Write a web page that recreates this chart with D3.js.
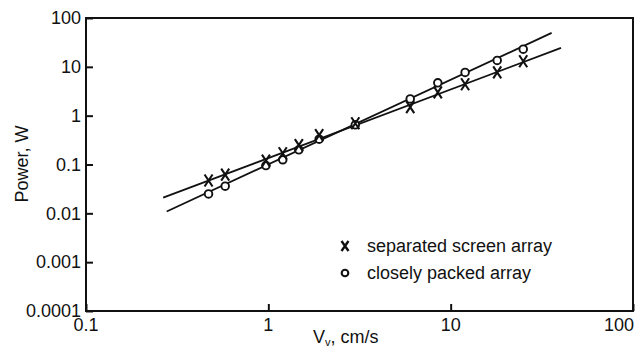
<!DOCTYPE html>
<html><head><meta charset="utf-8">
<script src="https://cdn.jsdelivr.net/npm/d3@7"></script>
<style>body{margin:0;background:#fff}svg{display:block}text{font-family:"Liberation Sans",Arial,Helvetica,sans-serif;fill:#111}</style>
</head><body><svg id="c" width="640" height="350"></svg>
<script>
// Data
const velocity = [0.47, 0.58, 0.97, 1.2, 1.47, 1.9, 3.0, 6.0, 8.5, 12, 18, 25];
const separatedPower = [0.047, 0.062, 0.12, 0.17, 0.25, 0.4, 0.7, 1.5, 3.0, 4.4, 7.7, 13];
const packedPower = [0.025, 0.036, 0.095, 0.125, 0.2, 0.33, 0.65, 2.2, 4.7, 7.7, 13.5, 23];
const fitSepX = [0.265, 40.3], fitSepY = [0.021, 24.4];
const fitPackX = [0.277, 35.8], fitPackY = [0.0109, 49.5];
const xTicks = [0.1, 1, 10, 100], xTickLabels = ["0.1", "1", "10", "100"];
const yTicks = [0.0001, 0.001, 0.01, 0.1, 1, 10, 100];
const yTickLabels = ["0.0001", "0.001", "0.01", "0.1", "1", "10", "100"];
const legendLabels = ["separated screen array", "closely packed array"];

const svg = d3.select("#c");
const L = 86, R = 633, T = 18, B = 311;
const x = d3.scaleLog().domain([0.1, 100]).range([L, R]);
const y = d3.scaleLog().domain([0.0001, 100]).range([B, T]);
const ink = "#111";

// frame
svg.append("rect").attr("x", L).attr("y", T).attr("width", R - L).attr("height", B - T)
  .attr("fill", "none").attr("stroke", ink).attr("stroke-width", 2);

// axes (inward ticks)
const xa = svg.append("g").attr("transform", `translate(0,${B})`)
  .call(d3.axisTop(x).tickValues(xTicks).tickSize(7).tickFormat(""));
xa.select(".domain").remove();
xa.selectAll("line").attr("stroke", ink).attr("stroke-width", 2);
const ya = svg.append("g").attr("transform", `translate(${L},0)`)
  .call(d3.axisRight(y).tickValues(yTicks).tickSize(7).tickFormat(""));
ya.select(".domain").remove();
ya.selectAll("line").attr("stroke", ink).attr("stroke-width", 2);

// tick labels
svg.append("g").selectAll("text").data(xTicks).join("text")
  .attr("x", (d, i) => i === xTicks.length - 1 ? x(d) + 1 : x(d))
  .attr("y", 331)
  .attr("text-anchor", (d, i) => i === xTicks.length - 1 ? "end" : "middle")
  .attr("font-size", 18).text((d, i) => xTickLabels[i]);
svg.append("g").selectAll("text").data(yTicks).join("text")
  .attr("x", 81).attr("y", d => y(d)).attr("dy", "0.35em")
  .attr("text-anchor", "end").attr("font-size", 18).text((d, i) => yTickLabels[i]);

// axis titles
svg.append("text").attr("transform", "translate(28,164) rotate(-90)")
  .attr("text-anchor", "middle").attr("font-size", 18).text("Power, W");
const xt = svg.append("text").attr("x", 313).attr("y", 343).attr("font-size", 18);
xt.append("tspan").text("V");
xt.append("tspan").attr("font-size", 11).attr("dy", 3).text("v");
xt.append("tspan").attr("dy", -3).text(", cm/s");

// fit lines
const line = d3.line().x(d => x(d[0])).y(d => y(d[1]));
svg.append("path").attr("d", line(d3.zip(fitSepX, fitSepY)))
  .attr("fill", "none").attr("stroke", ink).attr("stroke-width", 1.8);
svg.append("path").attr("d", line(d3.zip(fitPackX, fitPackY)))
  .attr("fill", "none").attr("stroke", ink).attr("stroke-width", 1.8);

// markers
svg.append("g").selectAll("circle").data(d3.zip(velocity, packedPower)).join("circle")
  .attr("cx", d => x(d[0])).attr("cy", d => y(d[1])).attr("r", 3.8)
  .attr("fill", "#fff").attr("stroke", ink).attr("stroke-width", 1.9);
const cross = "M-4,-6L4,6M4,-6L-4,6";
svg.append("g").selectAll("path").data(d3.zip(velocity, separatedPower)).join("path")
  .attr("transform", d => `translate(${x(d[0])},${y(d[1])})`)
  .attr("d", cross).attr("fill", "none").attr("stroke", ink).attr("stroke-width", 2.1);

// legend
const lg = svg.append("g");
lg.append("path").attr("transform", "translate(345,246)").attr("d", "M-3.5,-5L3.5,5M3.5,-5L-3.5,5")
  .attr("fill", "none").attr("stroke", ink).attr("stroke-width", 2.4);
lg.append("circle").attr("cx", 345).attr("cy", 273).attr("r", 3.3)
  .attr("fill", "#fff").attr("stroke", ink).attr("stroke-width", 2.1);
lg.selectAll("text").data(legendLabels).join("text")
  .attr("x", 367).attr("y", (d, i) => 252 + i * 27).attr("font-size", 18).text(d => d);
</script></body></html>
